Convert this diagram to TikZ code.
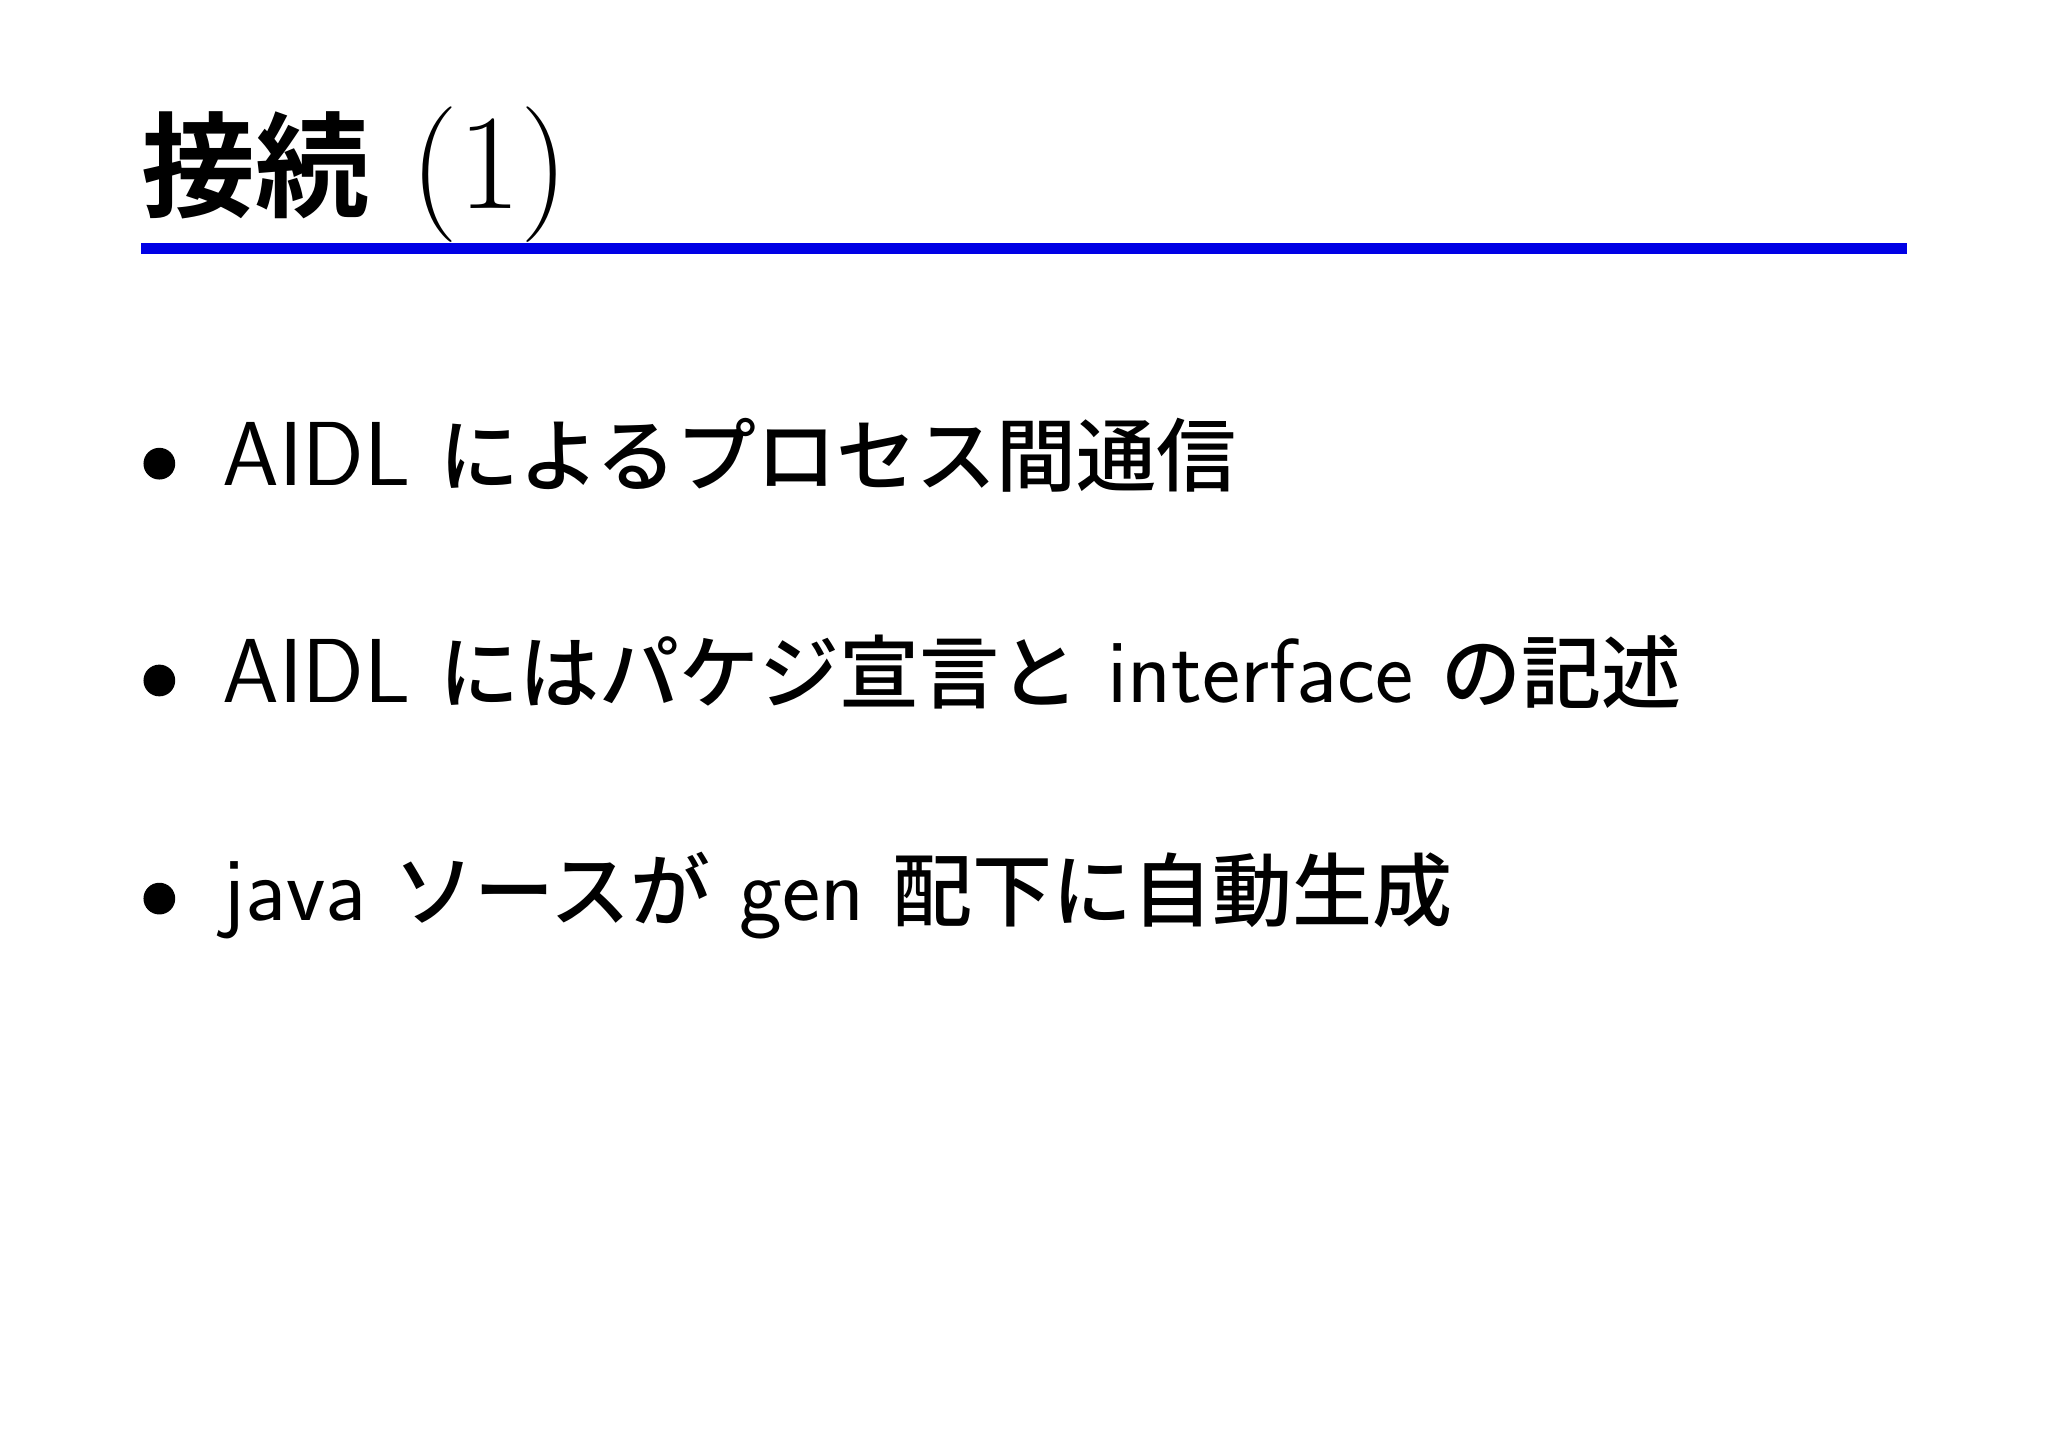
\documentclass[tikz,border=0pt]{standalone}
\usepackage{fontspec}
\newfontfamily\cjk{Noto Sans CJK JP}[UprightFont={* Medium},BoldFont={* Bold}]
\setsansfont{Latin Modern Sans}
\newcommand{\jb}[1]{{\fontsize{33}{40}\selectfont\cjk #1}}
\newcommand{\jt}[1]{{\fontsize{47}{56}\selectfont\cjk\bfseries #1}}
\begin{document}
\begin{tikzpicture}[x=0.018941cm,y=-0.018941cm,
  tx/.style={anchor=base west,inner sep=0,font=\fontsize{37.5}{44}\selectfont\sffamily},
  bul/.style={fill=black,circle,inner sep=0,minimum size=0.46cm}]
\useasboundingbox (0,0) rectangle (1568,1110);
\node[anchor=base west,inner sep=0,font=\fontsize{56}{66}\selectfont] (title) at (108,160) {\jt{接続} (1)};
\draw[line width=4.5pt,blue!90!black] (108,190) -- (1460,190);
\node[bul] (b1) at (122,355) {};
\node[bul] (b2) at (122,521) {};
\node[bul] (b3) at (122,688) {};
\node[tx] (t1) at (170,372) {AIDL \jb{によるプロセス間通信}};
\node[tx] (t2) at (170,538) {AIDL \jb{にはパケジ宣言と} interface \jb{の記述}};
\node[tx] (t3) at (170,705) {java \jb{ソースが} gen \jb{配下に自動生成}};
\end{tikzpicture}
\end{document}
